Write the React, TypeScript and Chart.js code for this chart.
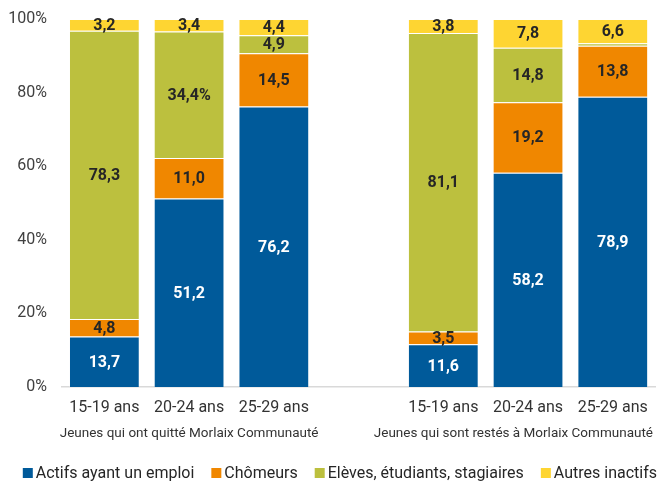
import { useEffect, useRef } from 'react';
import { Chart, registerables } from 'chart.js';

Chart.register(...registerables);

const categories = ['15-19 ans', '20-24 ans', '25-29 ans', '', '15-19 ans', '20-24 ans', '25-29 ans'];
const groupLabels = ['Jeunes qui ont quitté Morlaix Communauté', 'Jeunes qui sont restés à Morlaix Communauté'];
const groupCenterIndex = [1, 5];

const actifs = [13.7, 51.2, 76.2, null, 11.6, 58.2, 78.9];
const chomeurs = [4.8, 11.0, 14.5, null, 3.5, 19.2, 13.8];
const eleves = [78.3, 34.4, 4.9, null, 81.1, 14.8, 0.7];
const autres = [3.2, 3.4, 4.4, null, 3.8, 7.8, 6.6];

const seriesNames = ['Actifs ayant un emploi', 'Chômeurs', 'Elèves, étudiants, stagiaires', 'Autres inactifs'];
const yTicks = [0, 20, 40, 60, 80, 100];
// label suffixes exactly as printed in the source
const labelSuffix: Record<string, string> = { '2-1': '%' };

const COLORS = ['#005a9a', '#f08700', '#bcc03e', '#fed532'];
const LABEL_COLORS = ['#ffffff', '#262626', '#262626', '#262626'];

const FONT = 'Roboto, "Noto Sans", sans-serif';

const valueLabels = {
  id: 'valueLabels',
  afterDatasetsDraw(chart: any) {
    const ctx = chart.ctx;
    ctx.save();
    ctx.font = `bold 16px ${FONT}`;
    ctx.textAlign = 'center';
    ctx.textBaseline = 'middle';
    chart.data.datasets.forEach((ds: any, di: number) => {
      const meta = chart.getDatasetMeta(di);
      meta.data.forEach((el: any, i: number) => {
        const v = ds.data[i];
        if (v == null || v < 1) return;
        const { x, y, base } = el.getProps(['x', 'y', 'base'], true);
        const text = v.toFixed(1).replace('.', ',') + (labelSuffix[`${di}-${i}`] || '');
        ctx.fillStyle = LABEL_COLORS[di];
        ctx.fillText(text, x, (y + base) / 2 + 1);
      });
    });
    ctx.restore();
  },
};

const groupLabelPlugin = {
  id: 'groupLabels',
  afterDraw(chart: any) {
    const ctx = chart.ctx;
    const xs = chart.scales.x;
    ctx.save();
    ctx.font = `13.5px ${FONT}`;
    ctx.fillStyle = '#333333';
    ctx.textAlign = 'center';
    ctx.textBaseline = 'middle';
    groupLabels.forEach((t, gi) => {
      const w = ctx.measureText(t).width;
      let cx = xs.getPixelForValue(groupCenterIndex[gi]);
      const maxRight = chart.width - 6;
      if (cx + w / 2 > maxRight) cx = maxRight - w / 2;
      ctx.fillText(t, cx, xs.top + 47);
    });
    ctx.restore();
  },
};

const legendPlugin = {
  id: 'bottomLegend',
  afterDraw(chart: any) {
    const ctx = chart.ctx;
    ctx.save();
    ctx.font = `16px ${FONT}`;
    ctx.textAlign = 'left';
    ctx.textBaseline = 'alphabetic';
    const box = 10;
    const gap = 3;
    const spacing = 17;
    const items = chart.data.datasets.map((ds: any) => ({
      text: ds.label,
      color: ds.backgroundColor,
      w: ctx.measureText(ds.label).width,
    }));
    const total = items.reduce((s: number, it: any) => s + box + gap + it.w, 0) + spacing * (items.length - 1);
    let x = chart.width - 2 - total;
    const baseY = chart.height - 3;
    items.forEach((it: any) => {
      ctx.fillStyle = it.color;
      ctx.fillRect(x, baseY - box, box, box);
      ctx.fillStyle = '#262626';
      ctx.fillText(it.text, x + box + gap, baseY);
      x += box + gap + it.w + spacing;
    });
    ctx.restore();
  },
};

export default function App() {
  const ref = useRef<HTMLCanvasElement | null>(null);
  useEffect(() => {
    if (!ref.current) return;
    const data = [actifs, chomeurs, eleves, autres];
    const chart = new Chart(ref.current, {
      type: 'bar',
      data: {
        labels: categories,
        datasets: data.map((d, i) => ({
          label: seriesNames[i],
          data: d as any,
          backgroundColor: COLORS[i],
          borderColor: 'rgba(255,255,255,0.25)',
          borderWidth: 1,
          categoryPercentage: 1,
          barPercentage: 0.835,
        })),
      },
      options: {
        animation: false,
        responsive: true,
        maintainAspectRatio: false,
        layout: { padding: { top: 0, left: 0, right: 2, bottom: 26 } },
        plugins: {
          legend: { display: false },
          tooltip: { enabled: false },
        },
        scales: {
          x: {
            stacked: true,
            grid: { display: false, drawTicks: false },
            border: { display: true, color: '#d9d9d9', width: 1.5 },
            ticks: { color: '#333333', font: { family: FONT, size: 16 }, padding: 11, maxRotation: 0, autoSkip: false },
            afterFit: (s: any) => { s.height = 68; },
          },
          y: {
            stacked: true,
            min: 0,
            max: 100,
            afterBuildTicks: (s: any) => { s.ticks = yTicks.map((v) => ({ value: v })); },
            grid: { display: false, drawTicks: false },
            border: { display: false },
            ticks: {
              color: '#404040',
              font: { family: FONT, size: 16 },
              padding: 15,
              callback: (v: any) => `${v}%`,
            },
            afterFit: (s: any) => { s.width = 62; s.paddingTop = 19; },
          },
        },
      },
      plugins: [valueLabels, groupLabelPlugin, legendPlugin],
    });
    return () => chart.destroy();
  }, []);
  return (
    <div style={{ position: 'fixed', left: 0, top: 0, width: 659, height: 481 }}>
      <canvas ref={ref} />
    </div>
  );
}
